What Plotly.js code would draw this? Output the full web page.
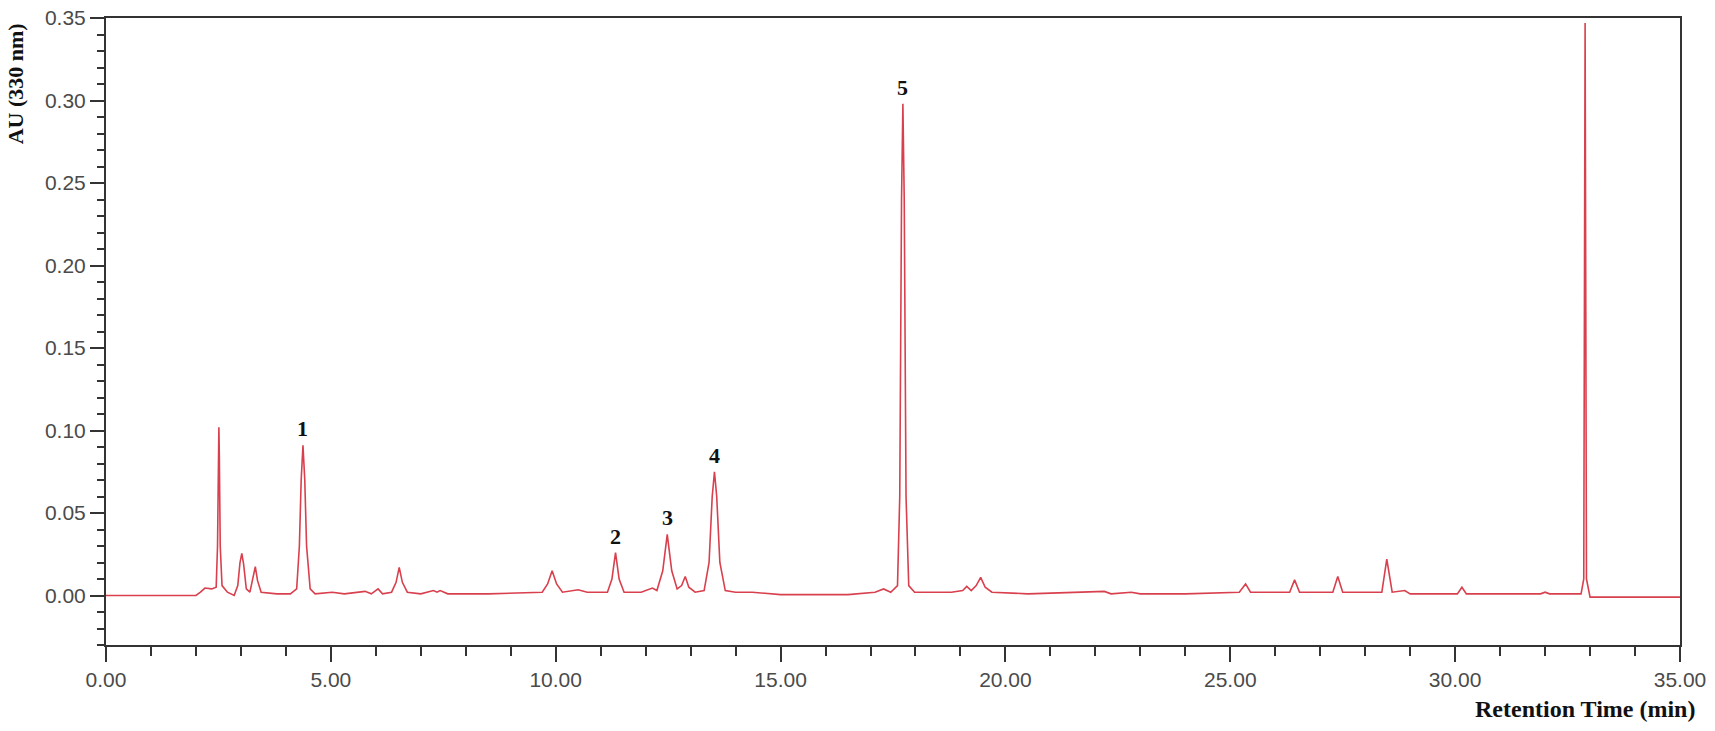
<!DOCTYPE html>
<html>
<head>
<meta charset="utf-8">
<script src="https://cdn.plot.ly/plotly-3.0.1.min.js"></script>
<style>html,body{margin:0;padding:0;background:#fff;}#chart{width:1715px;height:731px;}</style>
</head>
<body>
<div id="chart"></div>
<script>
// Retention time (min) and absorbance (AU at 330 nm)
const retentionTime = [
  0.00, 2.00, 2.10, 2.20, 2.35, 2.45, 2.48, 2.50, 2.51, 2.52, 2.54, 2.58, 2.70, 2.85,
  2.93, 2.98, 3.02, 3.06, 3.12, 3.20, 3.27, 3.32, 3.37, 3.45, 3.80, 4.10,
  4.24, 4.30, 4.34, 4.38, 4.42, 4.46, 4.54, 4.65, 5.03, 5.30, 5.76, 5.90,
  6.05, 6.15, 6.35, 6.45, 6.52, 6.59, 6.70, 7.00, 7.28, 7.36, 7.43, 7.60,
  8.50, 9.43, 9.70, 9.82, 9.92, 10.02, 10.15, 10.50, 10.70, 11.15, 11.25,
  11.33, 11.41, 11.52, 11.90, 12.15, 12.25, 12.38, 12.48, 12.58, 12.70,
  12.80, 12.88, 12.96, 13.10, 13.30, 13.41, 13.48, 13.53, 13.58, 13.65, 13.77,
  14.00, 14.37, 15.00, 16.50, 17.10, 17.29, 17.45, 17.60, 17.65, 17.69,
  17.72, 17.75, 17.79, 17.85, 17.98, 18.80, 19.05, 19.14, 19.24, 19.35,
  19.45, 19.55, 19.70, 20.50, 22.20, 22.35, 22.80, 23.00, 24.00, 25.20,
  25.34, 25.45, 26.32, 26.43, 26.54, 27.28, 27.39, 27.50, 28.37, 28.48,
  28.60, 28.88, 29.00, 30.05, 30.15, 30.25, 31.90, 32.00, 32.10, 32.80,
  32.86, 32.89, 32.92, 33.00, 35.00
];
const absorbance = [
  0.000, 0.000, 0.002, 0.0045, 0.004, 0.005, 0.030, 0.085, 0.102, 0.085, 0.030, 0.006, 0.002, 0.000,
  0.006, 0.020, 0.0255, 0.019, 0.004, 0.002, 0.010, 0.0175, 0.009, 0.002, 0.001, 0.001,
  0.004, 0.030, 0.070, 0.091, 0.070, 0.030, 0.004, 0.001, 0.002, 0.001, 0.0025, 0.001,
  0.004, 0.001, 0.002, 0.008, 0.017, 0.008, 0.002, 0.001, 0.003, 0.002, 0.003, 0.001,
  0.001, 0.002, 0.002, 0.007, 0.015, 0.007, 0.002, 0.0035, 0.002, 0.002, 0.010,
  0.026, 0.010, 0.002, 0.002, 0.0045, 0.003, 0.015, 0.037, 0.015, 0.004,
  0.006, 0.0115, 0.005, 0.002, 0.003, 0.020, 0.060, 0.075, 0.060, 0.020, 0.003,
  0.002, 0.002, 0.0005, 0.0005, 0.002, 0.004, 0.002, 0.006, 0.060, 0.240,
  0.298, 0.240, 0.060, 0.006, 0.002, 0.002, 0.003, 0.0055, 0.003, 0.006,
  0.011, 0.005, 0.002, 0.001, 0.0025, 0.001, 0.002, 0.001, 0.001, 0.002,
  0.007, 0.002, 0.002, 0.0095, 0.002, 0.002, 0.0115, 0.002, 0.002, 0.022,
  0.002, 0.003, 0.001, 0.001, 0.005, 0.001, 0.001, 0.002, 0.001, 0.001,
  0.010, 0.347, 0.010, -0.001, -0.001
];

// Numbered peaks
const peakLabels = ["1", "2", "3", "4", "5"];
const peakTimes = [4.38, 11.33, 12.48, 13.53, 17.72];
const peakHeights = [0.091, 0.026, 0.037, 0.075, 0.298];

// Axis ticks
const xTickVals = [0, 5, 10, 15, 20, 25, 30, 35];
const xTickText = ["0.00", "5.00", "10.00", "15.00", "20.00", "25.00", "30.00", "35.00"];
const yTickVals = [0, 0.05, 0.10, 0.15, 0.20, 0.25, 0.30, 0.35];
const yTickText = ["0.00", "0.05", "0.10", "0.15", "0.20", "0.25", "0.30", "0.35"];

const trace = {
  x: retentionTime,
  y: absorbance,
  type: 'scatter',
  mode: 'lines',
  line: {color: '#d8404e', width: 1.6},
  hoverinfo: 'x+y'
};

const serif = '"Liberation Serif", "Times New Roman", serif';

const annotations = peakLabels.map((t, i) => ({
  x: peakTimes[i], y: peakHeights[i], xref: 'x', yref: 'y',
  text: '<b>' + t + '</b>', showarrow: false, yanchor: 'bottom', yshift: 2,
  font: {family: serif, size: 22, color: '#111'}
}));

annotations.push({
  xref: 'paper', yref: 'paper', x: 1.0108, y: -0.102, xanchor: 'right', yanchor: 'middle',
  text: '<b>Retention Time (min)</b>', showarrow: false,
  font: {family: serif, size: 24, color: '#111'}
});
annotations.push({
  xref: 'paper', yref: 'paper', x: -0.0575, y: 0.895, xanchor: 'center', yanchor: 'middle',
  textangle: -90, text: '<b>AU (330 nm)</b>', showarrow: false,
  font: {family: serif, size: 22, color: '#111'}
});

const axisFont = {family: '"Liberation Sans", Arial, sans-serif', size: 21, color: '#4a4a4a'};

const layout = {
  width: 1715, height: 731,
  margin: {l: 106, r: 35, t: 18, b: 86},
  paper_bgcolor: '#ffffff', plot_bgcolor: '#ffffff',
  showlegend: false,
  xaxis: {
    range: [0, 35], tickvals: xTickVals, ticktext: xTickText,
    showgrid: false, zeroline: false,
    showline: true, linecolor: '#333', linewidth: 2, mirror: true,
    ticks: 'outside', ticklen: 15, tickwidth: 2, tickcolor: '#333',
    tickfont: axisFont,
    minor: {dtick: 1, ticks: 'outside', ticklen: 9, tickwidth: 2, tickcolor: '#333', showgrid: false}
  },
  yaxis: {
    range: [-0.03, 0.35], tickvals: yTickVals, ticktext: yTickText,
    showgrid: false, zeroline: false,
    showline: true, linecolor: '#333', linewidth: 2, mirror: true,
    ticks: 'outside', ticklen: 14, tickwidth: 2, tickcolor: '#333',
    tickfont: axisFont,
    minor: {dtick: 0.01, ticks: 'outside', ticklen: 7, tickwidth: 2, tickcolor: '#333', showgrid: false}
  },
  annotations: annotations
};

Plotly.newPlot('chart', [trace], layout, {displayModeBar: false, staticPlot: true});
</script>
</body>
</html>
